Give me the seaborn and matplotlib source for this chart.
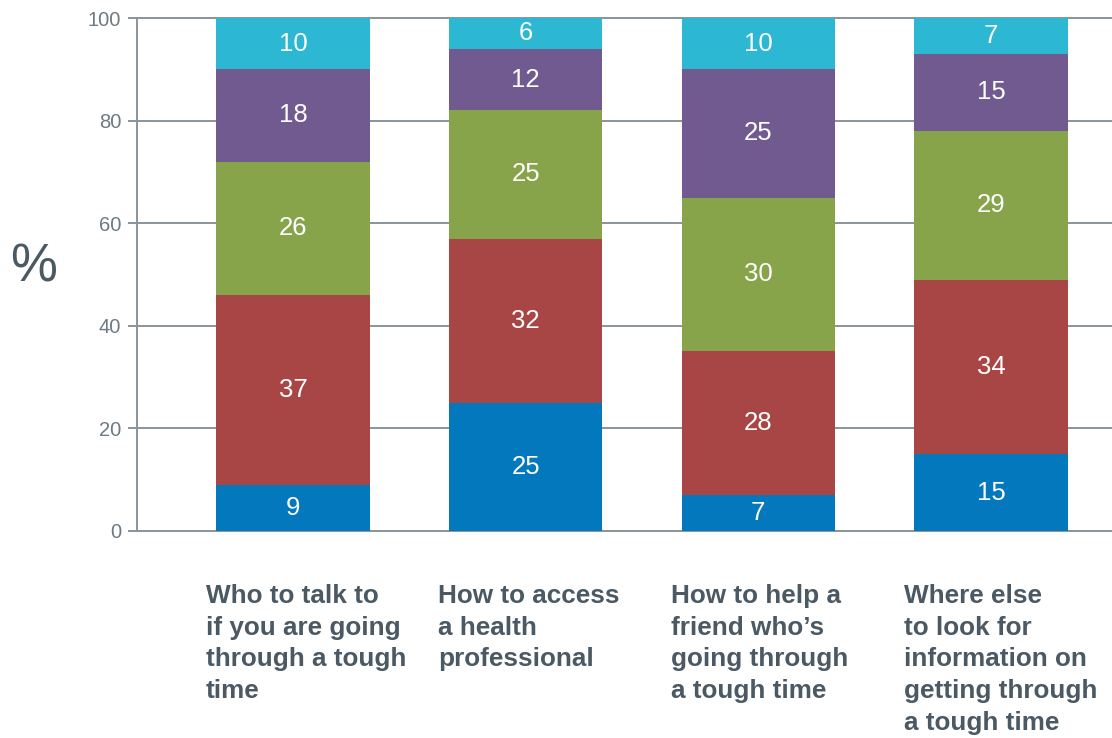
import numpy as np
import pandas as pd
import matplotlib
matplotlib.use("Agg")
import matplotlib.pyplot as plt
import matplotlib.transforms as mtransforms
import seaborn as sns

# Survey topics and the share of answers in each response band (bottom to top)
categories = [
    "Who to talk to\nif you are going\nthrough a tough\ntime",
    "How to access\na health\nprofessional",
    "How to help a\nfriend who\u2019s\ngoing through\na tough time",
    "Where else\nto look for\ninformation on\ngetting through\na tough time",
]
band_1 = [9, 25, 7, 15]
band_2 = [37, 32, 28, 34]
band_3 = [26, 25, 30, 29]
band_4 = [18, 12, 25, 15]
band_5 = [10, 6, 10, 7]

bands = [band_1, band_2, band_3, band_4, band_5]
colors = ["#0478BC", "#A84545", "#88A44B", "#715A8F", "#2CB7D3"]
y_ticks = [0, 20, 40, 60, 80, 100]

sns.set_theme(style="white")
plt.rcParams["font.family"] = ["Liberation Sans", "DejaVu Sans"]

text_dark = "#4A5963"
grid_col = "#8A949A"

fig = plt.figure(figsize=(11.12, 7.38), dpi=100)
ax = fig.add_axes([0.1232, 0.2805, 0.8768, 0.6951])

keys = [f"c{i}" for i in range(len(categories))]
cum = np.cumsum(np.array(bands, dtype=float), axis=0)

# Draw cumulative totals from the tallest down so each band shows its own slice
for level in range(len(bands) - 1, -1, -1):
    df = pd.DataFrame({"topic": keys, "value": cum[level]})
    sns.barplot(data=df, x="topic", y="value", color=colors[level],
                saturation=1, width=0.66, ax=ax, zorder=3, linewidth=0)

# Value labels in the middle of each slice
for level, vals in enumerate(bands):
    lower = cum[level] - np.array(vals)
    for i, v in enumerate(vals):
        ax.text(i, lower[i] + v / 2, f"{v}", ha="center", va="center",
                color="white", fontsize=18.5, zorder=5)

ax.set_xlim(-0.67, 3.52)
ax.set_ylim(0, 100)
ax.set_yticks(y_ticks)
ax.set_yticklabels([str(t) for t in y_ticks], color="#6E7A82", fontsize=14.5)
ax.yaxis.grid(True, color=grid_col, linewidth=1.4, zorder=0)
ax.set_axisbelow(True)
ax.tick_params(axis="y", length=6.5, width=1.4, color=grid_col, pad=5, left=True)
ax.tick_params(axis="x", bottom=False, labelbottom=False)
ax.set_xlabel("")
ax.set_ylabel("")
for side in ["top", "right", "bottom"]:
    ax.spines[side].set_visible(False)
ax.spines["left"].set_color(grid_col)
ax.spines["left"].set_linewidth(1.4)
ax.axhline(0, color=grid_col, linewidth=1.4, zorder=1, clip_on=False)
ax.axhline(100, color=grid_col, linewidth=1.4, zorder=1, clip_on=False)

# Category captions under the bars
trans = mtransforms.blended_transform_factory(ax.transData, ax.transAxes)
offset = mtransforms.ScaledTranslation(0, -38 / 72, fig.dpi_scale_trans)
for i, label in enumerate(categories):
    ax.text(i - 0.375, 0, label, transform=trans + offset, ha="left", va="top",
            fontsize=18.8, color=text_dark, fontweight="bold", linespacing=1.41)

fig.text(0.009, 0.638, "%", fontsize=38, color=text_dark, ha="left", va="center")

fig.savefig("out.png", dpi=100)
